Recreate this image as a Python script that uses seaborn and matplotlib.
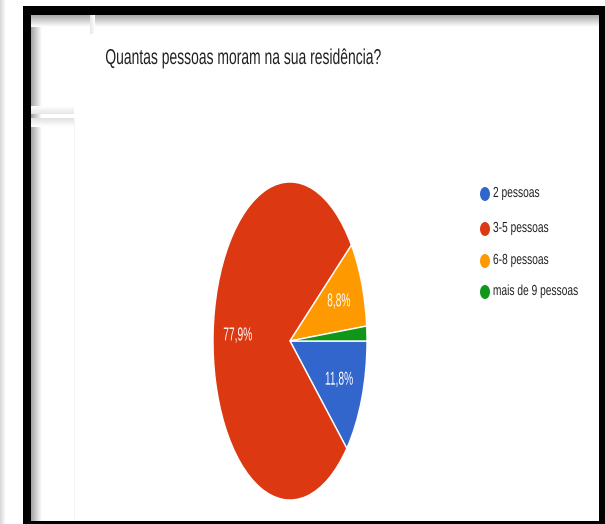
import numpy as np
import matplotlib
matplotlib.use("Agg")
import matplotlib.pyplot as plt
from matplotlib.patches import Rectangle, Ellipse
from matplotlib.patheffects import AbstractPathEffect
from matplotlib.transforms import Affine2D
import seaborn as sns

# Survey answers: household size
title = "Quantas pessoas moram na sua residência?"
categories = ["2 pessoas", "3-5 pessoas", "6-8 pessoas", "mais de 9 pessoas"]
shares = [11.8, 77.9, 8.8, 1.5]
slice_colors = ["#3366cc", "#dc3912", "#ff9900", "#109618"]

sns.set_theme(style="white")
plt.rcParams["font.family"] = ["Liberation Sans", "DejaVu Sans"]

W, H = 605, 524
fig = plt.figure(figsize=(W / 100, H / 100), dpi=100)
fig.patch.set_facecolor("white")


def fx(px):
    return px / W


def fy(py):
    return 1 - py / H


class Squeeze(AbstractPathEffect):
    """Compress glyphs horizontally about the centre of the drawn text."""

    def __init__(self, sx):
        super().__init__()
        self.sx = sx

    def draw_path(self, renderer, gc, tpath, affine, rgbFace=None):
        ext = tpath.get_extents(affine)
        cx = 0.5 * (ext.x0 + ext.x1)
        squeezed = affine + Affine2D().translate(-cx, 0).scale(self.sx, 1).translate(cx, 0)
        renderer.draw_path(gc, tpath, squeezed, rgbFace)


# Background layer in pixel coordinates: frame and soft shadows
bg = fig.add_axes([0, 0, 1, 1], zorder=-5)
bg.set_xlim(0, W)
bg.set_ylim(H, 0)
bg.axis("off")


def gradient(x0, x1, y0, y1, vertical, g0, g1):
    ramp = np.linspace(g0, g1, 32)
    arr = ramp[:, None] if vertical else ramp[None, :]
    bg.imshow(arr, cmap="gray", vmin=0, vmax=1, extent=(x0, x1, y1, y0),
              aspect="auto", interpolation="bilinear", zorder=1)


# outside edge on the far left
gradient(0, 6, 0, H, False, 0.84, 1.0)
# inner shadows under the black frame
gradient(31, 42, 15, 521, False, 0.64, 1.0)
gradient(31, 599, 15, 27, True, 0.66, 1.0)
# faint window edges in the upper left corner
gradient(31, 74, 106, 114, True, 1.0, 0.90)
gradient(31, 74, 118, 127, True, 0.88, 1.0)
gradient(90, 95, 15, 34, False, 0.90, 1.0)
bg.add_patch(Rectangle((74, 118), 1.0, H - 118, color="#f4f4f4", lw=0, zorder=2))

# black frame
bg.add_patch(Rectangle((23, 6), 8, H - 6, color="black", lw=0, zorder=3))
bg.add_patch(Rectangle((23, 6), W - 23, 9, color="black", lw=0, zorder=3))
bg.add_patch(Rectangle((599, 6), 6, H - 6, color="black", lw=0, zorder=3))
bg.add_patch(Rectangle((23, 521), W - 23, 3, color="black", lw=0, zorder=3))

# Pie (stretched vertically)
ax = fig.add_axes([fx(213), fy(500), fx(367) - fx(213), (500 - 182) / H])
palette = sns.color_palette(slice_colors)


def pct_label(p):
    return f"{p:.1f}%".replace(".", ",") if p > 5 else ""


wedges, texts, autotexts = ax.pie(
    shares, colors=palette, startangle=0, counterclock=False, radius=1,
    autopct=pct_label, pctdistance=0.68,
    wedgeprops=dict(edgecolor="white", linewidth=1.0),
    textprops=dict(color="white", fontsize=13.5),
)
ax.set_aspect("auto")
ax.set_xlim(-1, 1)
ax.set_ylim(-1, 1)
ax.axis("off")

# Title and legend texts
title_text = fig.text(fx(242), fy(64), title, ha="center", va="baseline",
                      fontsize=15.5, color="#212121")

legend_base = [197, 232, 264, 295]
legend_texts = []
for label, col, yy in zip(categories, slice_colors, legend_base):
    fig.add_artist(Ellipse((fx(485), fy(yy - 3)), width=10 / W, height=14 / H,
                           transform=fig.transFigure, color=col, lw=0))
    legend_texts.append(fig.text(fx(530), fy(yy), label, ha="center", va="baseline",
                                 fontsize=10.5, color="#222222"))

fig.canvas.draw()
renderer = fig.canvas.get_renderer()


def width_px(t):
    return t.get_window_extent(renderer).width


# narrow glyphs: title spans x 105..380, legend starts at x 493
tw = width_px(title_text)
title_sx = 275 / tw
title_text.set_path_effects([Squeeze(title_sx)])
title_text.set_x(fx(105 + 0.5 * title_sx * tw))

legend_sx = 86 / width_px(legend_texts[-1])
for t in legend_texts:
    w = width_px(t)
    t.set_path_effects([Squeeze(legend_sx)])
    t.set_x(fx(493 + 0.5 * legend_sx * w))

pct_sx = 29 / width_px(autotexts[1])
for t in autotexts:
    t.set_path_effects([Squeeze(pct_sx)])

fig.savefig("out.png", dpi=100, facecolor="white")
